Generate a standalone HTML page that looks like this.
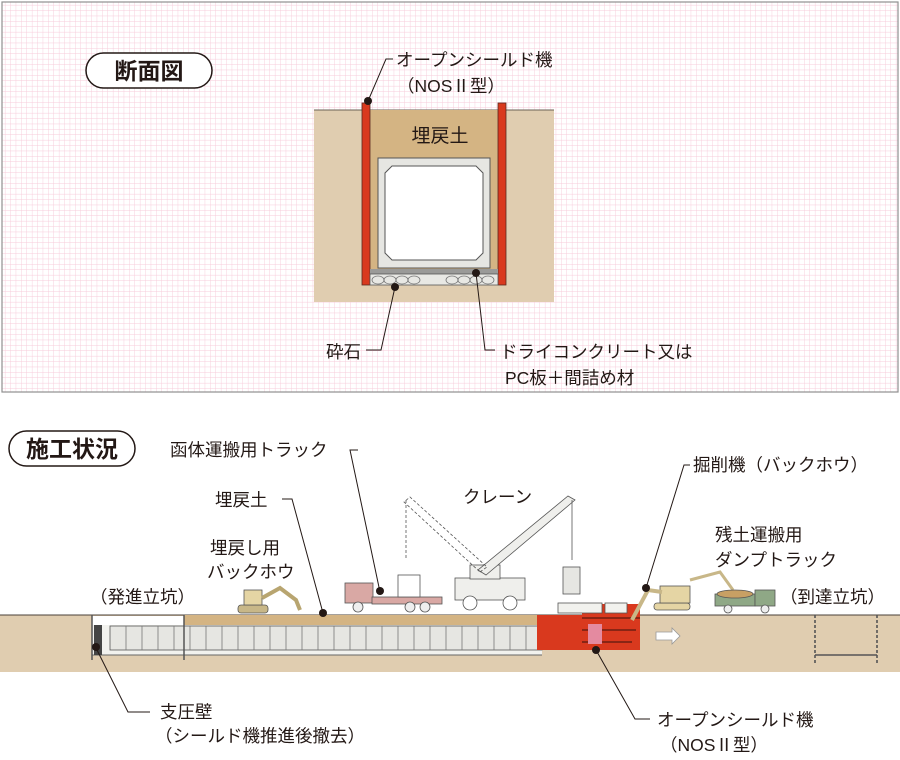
<!DOCTYPE html>
<html><head><meta charset="utf-8"><style>
html,body{margin:0;padding:0;background:#fff;}
body{width:900px;height:755px;position:relative;overflow:hidden;font-family:"Liberation Sans","Noto Sans CJK JP",sans-serif;}
svg text{font-family:"Liberation Sans","Noto Sans CJK JP",sans-serif;fill:#231815;}
</style></head><body>
<svg width="900" height="755" viewBox="0 0 900 755" xmlns="http://www.w3.org/2000/svg">
<defs>
<pattern id="g" width="5.4" height="5.4" patternUnits="userSpaceOnUse">
<path d="M5.4 0V5.4M0 5.4H5.4" stroke="#f7cbda" stroke-width="0.9" fill="none"/>
</pattern>
</defs>
<rect x="2" y="2" width="896" height="390" fill="#fff"/>
<rect x="2" y="2" width="896" height="390" fill="url(#g)" stroke="#8f8f8f" stroke-width="1.2"/>
<rect x="86" y="53" width="126" height="35" rx="17.5" fill="#fff" stroke="#231815" stroke-width="1.5"/>
<text x="149" y="79" font-size="23" font-weight="bold" text-anchor="middle">断面図</text>

<rect x="314" y="110" width="240" height="192" fill="#e0cdb0"/>
<line x1="314" y1="110" x2="554" y2="110" stroke="#6b6256" stroke-width="1"/>
<rect x="370" y="110" width="128" height="165" fill="#d4b483"/>
<rect x="362" y="103" width="8" height="182" fill="#d9391e" stroke="#5a2a20" stroke-width="0.8"/>
<rect x="498" y="103" width="8" height="182" fill="#d9391e" stroke="#5a2a20" stroke-width="0.8"/>
<rect x="378" y="158" width="112" height="110" fill="#e6e6e2" stroke="#555" stroke-width="1"/>
<polygon points="392,166 476,166 483,173 483,253 476,260 392,260 385,253 385,173" fill="#fff" stroke="#555" stroke-width="1"/>
<rect x="370" y="269" width="128" height="5" fill="#9a9a98"/>
<rect x="370" y="274" width="128" height="11" fill="#e8e8e4" stroke="#555" stroke-width="0.8"/>
<g fill="none" stroke="#777" stroke-width="0.8">
<ellipse cx="378" cy="280" rx="6" ry="4"/><ellipse cx="390" cy="280" rx="6" ry="4"/><ellipse cx="402" cy="280" rx="6" ry="4"/><ellipse cx="414" cy="280" rx="6" ry="4"/>
<ellipse cx="452" cy="280" rx="6" ry="4"/><ellipse cx="464" cy="280" rx="6" ry="4"/><ellipse cx="476" cy="280" rx="6" ry="4"/><ellipse cx="488" cy="280" rx="6" ry="4"/>
</g>
<text x="440" y="142" font-size="19" text-anchor="middle">埋戻土</text>

<g stroke="#231815" stroke-width="1" fill="none">
<polyline points="368,101 386,59 393,59"/>
<polyline points="395,287 381,350 366,350"/>
<polyline points="476,273 485,350 495,350"/>
</g>
<g fill="#231815"><circle cx="368" cy="101" r="4"/><circle cx="395" cy="287" r="4"/><circle cx="476" cy="273" r="4"/></g>
<text x="396" y="66" font-size="17.5">オープンシールド機</text>
<text x="397" y="92" font-size="17.5">（NOSⅡ型）</text>
<text x="326" y="358" font-size="17.5">砕石</text>
<text x="500" y="358" font-size="17.5">ドライコンクリート又は</text>
<text x="505" y="384" font-size="17.5">PC板＋間詰め材</text>

<rect x="9" y="431" width="126" height="35" rx="17.5" fill="#fff" stroke="#231815" stroke-width="1.5"/>
<text x="72" y="457" font-size="23" font-weight="bold" text-anchor="middle">施工状況</text>

<rect x="0" y="615" width="900" height="57" fill="#e0cdb0"/>
<line x1="0" y1="615" x2="900" y2="615" stroke="#4a4038" stroke-width="1"/>
<rect x="92" y="616" width="92" height="9" fill="#fff"/>
<rect x="184" y="615" width="360" height="10" fill="#d4b483"/>
<rect x="92" y="625" width="450" height="30" fill="#f2f2ee"/>
<rect x="110" y="626" width="432" height="24" fill="#e6e6e2" stroke="#555" stroke-width="0.8"/>
<g stroke="#777" stroke-width="0.8">
<path d="M126 626V650M142 626V650M158 626V650M174 626V650M190 626V650M206 626V650M222 626V650M238 626V650M254 626V650M270 626V650M286 626V650M302 626V650M318 626V650M334 626V650M350 626V650M366 626V650M382 626V650M398 626V650M414 626V650M430 626V650M446 626V650M462 626V650M478 626V650M494 626V650M510 626V650M526 626V650"/>
</g>
<line x1="92" y1="655" x2="542" y2="655" stroke="#666" stroke-width="1"/>
<line x1="92" y1="615" x2="92" y2="660" stroke="#555" stroke-width="1.5"/>
<line x1="184" y1="615" x2="184" y2="660" stroke="#555" stroke-width="1.5"/>
<rect x="94" y="625" width="8" height="30" fill="#444"/>
<rect x="537" y="615" width="100" height="35" fill="#d9391e"/>
<rect x="582" y="604" width="58" height="46" fill="#d9391e"/>
<path d="M582 618L640 618M582 630L636 630M582 642L632 642" stroke="#5a1a10" stroke-width="1.2"/>
<rect x="588" y="624" width="14" height="20" fill="#e48aa0"/>
<g fill="#f2f2ee" stroke="#555" stroke-width="0.8">
<rect x="558" y="603" width="44" height="10"/><rect x="605" y="603" width="22" height="10"/>
</g>
<polygon points="656,632 672,632 672,628 680,636 672,644 672,640 656,640" fill="#fff" stroke="#999" stroke-width="0.8"/>
<g stroke="#555" stroke-width="1.6" stroke-dasharray="3,2" fill="none">
<line x1="815" y1="615" x2="815" y2="665"/><line x1="877" y1="615" x2="877" y2="665"/>
</g>
<line x1="815" y1="655" x2="877" y2="655" stroke="#555" stroke-width="1.5"/>

<g>
<rect x="238" y="605" width="30" height="8" rx="3" fill="#c8b788" stroke="#555" stroke-width="0.8"/>
<rect x="244" y="590" width="18" height="15" fill="#e5d5a4" stroke="#555" stroke-width="0.8"/>
<polyline points="262,598 280,588 296,600 300,610" stroke="#b8a570" stroke-width="4" fill="none"/>
</g>
<g stroke="#555" stroke-width="0.8">
<rect x="345" y="583" width="28" height="20" fill="#d9a8a4"/>
<rect x="372" y="597" width="70" height="7" fill="#d9a8a4"/>
<rect x="398" y="575" width="22" height="22" fill="#fff"/>
<circle cx="358" cy="607" r="5" fill="#eee"/><circle cx="410" cy="607" r="5" fill="#eee"/><circle cx="425" cy="607" r="5" fill="#eee"/>
</g>
<g stroke="#555" stroke-width="0.8">
<rect x="455" y="578" width="70" height="22" fill="#efefec"/>
<rect x="470" y="565" width="30" height="14" fill="#efefec"/>
<circle cx="470" cy="603" r="7" fill="#fff"/><circle cx="510" cy="603" r="7" fill="#fff"/>
<polygon points="478,570 486,575 575,500 568,496" fill="#efefec"/>
<polygon points="480,572 487,567 410,497 404,502" fill="none" stroke-dasharray="3,2"/>
<line x1="572" y1="500" x2="572" y2="560"/>
<rect x="563" y="567" width="17" height="27" fill="#e6e6e2"/>
<line x1="406" y1="500" x2="406" y2="560" stroke-dasharray="3,2"/>
</g>
<g stroke="#555" stroke-width="0.8">
<rect x="654" y="603" width="36" height="7" rx="3" fill="#e5d5a4"/>
<rect x="660" y="586" width="30" height="17" fill="#e5d5a4"/>
<polyline points="662,592 648,590 632,620" stroke="#c8b788" stroke-width="4" fill="none"/>
<polyline points="690,580 720,572 733,590" stroke="#c8b788" stroke-width="3" fill="none"/>
</g>
<g stroke="#555" stroke-width="0.8">
<rect x="715" y="594" width="40" height="12" fill="#8fa886"/>
<rect x="755" y="590" width="20" height="16" fill="#8fa886"/>
<ellipse cx="735" cy="594" rx="18" ry="4" fill="#c8a064"/>
<circle cx="728" cy="609" r="4" fill="#eee"/><circle cx="765" cy="609" r="4" fill="#eee"/>
</g>

<g stroke="#231815" stroke-width="1" fill="none">
<polyline points="323,613 292,499 282,499"/>
<polyline points="380,592 350,450 358,450"/>
<polyline points="646,588 684,465 690,465"/>
<polyline points="96,648 128,712 150,712"/>
<polyline points="596,650 635,719 650,719"/>
</g>
<g fill="#231815"><circle cx="323" cy="613" r="4"/><circle cx="380" cy="591" r="4"/><circle cx="646" cy="588" r="4"/><circle cx="96" cy="647" r="4"/><circle cx="596" cy="650" r="4"/></g>

<g font-size="17.5">
<text x="170" y="456">函体運搬用トラック</text>
<text x="215" y="506">埋戻土</text>
<text x="463" y="503">クレーン</text>
<text x="210" y="554">埋戻し用</text>
<text x="207" y="578">バックホウ</text>
<text x="90" y="603">（発進立坑）</text>
<text x="693" y="471">掘削機（バックホウ）</text>
<text x="715" y="541">残土運搬用</text>
<text x="715" y="566">ダンプトラック</text>
<text x="780" y="603">（到達立坑）</text>
<text x="160" y="718">支圧壁</text>
<text x="155" y="742">（シールド機推進後撤去）</text>
<text x="657" y="726">オープンシールド機</text>
<text x="660" y="751">（NOSⅡ型）</text>
</g>
</svg>
</body></html>
